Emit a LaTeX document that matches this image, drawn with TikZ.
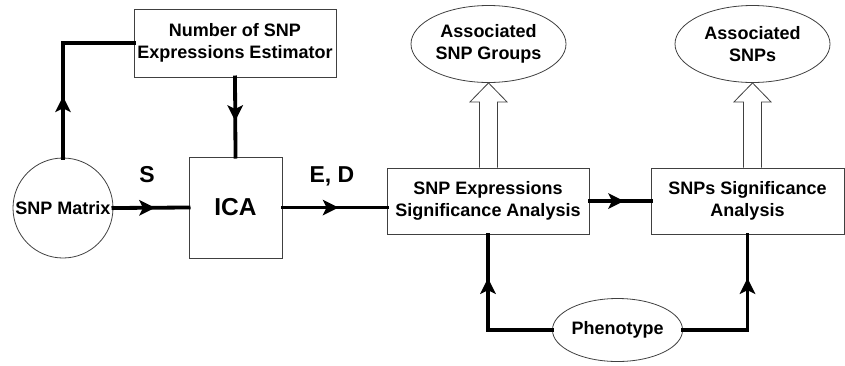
\documentclass[tikz,border=0pt]{standalone}
\usepackage{fontspec}
\setmainfont{Liberation Sans}
\usetikzlibrary{shapes.geometric}
\usetikzlibrary{decorations.markings}
\usetikzlibrary{calc}
\newcommand{\lbl}{\fontsize{18}{22.5}\selectfont\bfseries}
\tikzset{
  blk/.style={draw=black!75, line width=0.8pt, align=center, inner sep=0pt, font=\lbl},
  conn/.style={line width=3.8pt, line cap=rect},
  midarrow/.style={postaction={decorate, decoration={markings,
    mark=at position 0.5 with {\fill[line width=0pt] (4pt,0pt) -- (-12pt,8pt) -- (-8pt,0pt) -- (-12pt,-8pt) -- cycle;}}}},
  hollow/.style={draw=black!75, line width=0.8pt, fill=white},
}

\begin{document}
\begin{tikzpicture}[x=1pt,y=-1pt]
\useasboundingbox (0,0) rectangle (845,365);
\node[blk,circle,minimum size=100pt] (snp) at (63,208) {SNP Matrix};
\node[blk,minimum width=202pt,minimum height=68pt] (num) at (235,43) {Number of SNP\\Expressions Estimator};
\node[blk,minimum width=93pt,minimum height=101pt,font=\fontsize{24.5}{28}\selectfont\bfseries] (ica) at (235.5,207.5) {ICA};
\node[blk,minimum width=202pt,minimum height=66pt] (sea) at (488,201) {SNP Expressions\\Significance Analysis};
\node[blk,minimum width=193pt,minimum height=66pt] (ssa) at (747.5,201) {SNPs Significance\\Analysis};
\node[blk,ellipse,minimum width=155pt,minimum height=77pt] (grp) at (488.5,44) {Associated\\SNP Groups};
\node[blk,ellipse,minimum width=155pt,minimum height=77pt] (asnp) at (752.5,44) {Associated\\SNPs};
\node[blk,ellipse,minimum width=125pt,minimum height=63pt] (pheno) at (617.5,330) {Phenotype};
\node[font=\fontsize{23}{26}\selectfont\bfseries] (s) at (147,175) {S};
\node[font=\fontsize{23}{26}\selectfont\bfseries] (ed) at (332,176) {E, D};

\coordinate (c1) at (snp.north |- num.west);
\draw[conn,midarrow] (snp.north) -- (c1);
\draw[conn] (c1) -- (num.west);
\draw[conn,midarrow] (num.south) -- (ica.north);
\draw[conn,midarrow] (snp.east) -- (ica.west);
\draw[conn,midarrow] (ica.east) -- (ica.east -| sea.west);
\draw[conn,midarrow] (sea.east) -- (sea.east -| ssa.west);

\coordinate (p1) at (sea.south |- pheno.west);
\coordinate (p2) at (ssa.south |- pheno.east);
\draw[conn] (pheno.west) -- (p1);
\draw[conn,midarrow] (p1) -- (sea.south);
\draw[conn] (pheno.east) -- (p2);
\draw[conn,midarrow] (p2) -- (ssa.south);

\foreach \a/\b in {sea/grp, ssa/asnp} {
  \draw[hollow] ($(\b.south |- \a.north)+(-9,0)$) -- ($(\b.south)+(-9,19)$) -- ++(-9.5,0)
    -- (\b.south) -- ($(\b.south)+(18.5,19)$) -- ++(-9.5,0) -- ($(\b.south |- \a.north)+(9,0)$);
}
\end{tikzpicture}
\end{document}
